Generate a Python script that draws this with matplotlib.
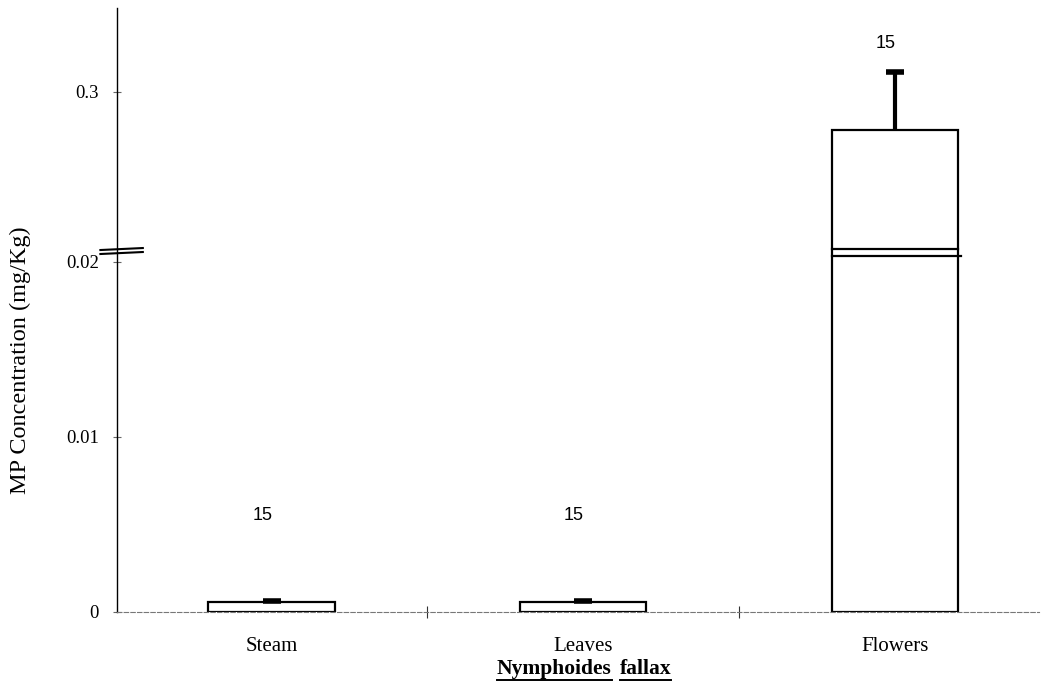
import numpy as np
import matplotlib
matplotlib.use("Agg")
from matplotlib import pyplot as plt
from matplotlib.lines import Line2D

# data
parts = ['Steam', 'Leaves', 'Flowers']
mp_conc = [0.00057, 0.00055, 0.2756]
mp_err = [0.00005, 0.00005, 0.037]
n_samples = ['15', '15', '15']
ytick_vals = [0, 0.01, 0.02, 0.3]
ytick_txt = ['0', '0.01', '0.02', '0.3']

# broken y axis: lower part linear up to lo_top, upper part starts at up_bot and is squashed
lo_top = 0.0208
up_bot = 0.2
k = 1560.0 / 17500.0

def fwd(y):
    y = np.asarray(y, dtype=float)
    return np.where(y <= lo_top, y, lo_top + np.clip(y - up_bot, 0, None) * k)

def inv(u):
    u = np.asarray(u, dtype=float)
    return np.where(u <= lo_top, u, up_bot + (u - lo_top) / k)

serif = 'Liberation Serif'
sans = 'Liberation Sans'
W, H = 1048, 694

fig = plt.figure(figsize=(W/100, H/100), dpi=100)
ax = fig.add_axes([117/W, 1 - 612/H, 0.88, (612 - 8)/H])
ax.set_yscale('function', functions=(fwd, inv))
ax.set_ylim(0, 0.3538)
ax.set_xlim(-0.496, 2.464)

x = np.arange(len(parts))
ax.bar(x, mp_conc, width=0.405, color='white', edgecolor='black', linewidth=1.6)
# error bars only upwards
tops = np.array(mp_conc) + np.array(mp_err)
ax.vlines(x, mp_conc, tops, color='black', lw=3, zorder=4)
ax.plot(x, tops, ls='none', marker='_', ms=13, mew=4, color='black', zorder=4)

# n labels
label_y = [0.00554, 0.00554, 0.3308]
for xi, yi, s in zip(x, label_y, n_samples):
    ax.text(xi - 0.03, yi, s, ha='center', va='center', fontsize=13, family=sans)

# break marks across the big bar
ax.plot([2 - 0.2025, 2 + 0.2025], [0.02074, 0.02074], color='black', lw=1.6, zorder=5)
ax.plot([2 - 0.2025, 2 + 0.2125], [0.02034, 0.02034], color='black', lw=1.6, zorder=5)
# break marks on the y axis
for y0, y1 in [(0.5993, 0.6026), (0.5927, 0.5960)]:
    ax.add_line(Line2D([-0.018, 0.028], [y0, y1], transform=ax.transAxes,
                       color='black', lw=1.5, clip_on=False))

ax.set_yticks(ytick_vals)
ax.set_yticklabels(ytick_txt, family=serif, fontsize=13.5)
ax.yaxis.set_minor_locator(plt.NullLocator())
ax.tick_params(axis='y', length=6, width=0.8, direction='inout', color='#666666', pad=10)

ax.set_xticks([0.5, 1.5])
ax.set_xticklabels([])
ax.tick_params(axis='x', length=8, width=0.8, direction='inout', color='#333333')

ax.spines['top'].set_visible(False)
ax.spines['right'].set_visible(False)
ax.spines['left'].set_linewidth(1.0)
ax.spines['bottom'].set_linestyle((0, (4, 2)))
ax.spines['bottom'].set_color('#777777')
ax.spines['bottom'].set_linewidth(0.8)

# category names under each bar
for xi, s in zip(x, parts):
    px = ax.transData.transform((xi, 0))[0]
    fig.text(px / W, 1 - 651/H, s, ha='center', va='baseline', fontsize=15, family=serif)

fig.text(20/W, 1 - 360/H, 'MP Concentration (mg/Kg)', rotation=90, ha='center',
         va='center', family=serif, fontsize=17.5)

# underlined bold species name, word by word, centred under the middle category
t1 = fig.text(0, 1 - 674/H, 'Nymphoides', ha='left', va='baseline',
              fontsize=15.5, fontweight='bold', family=serif)
t2 = fig.text(0, 1 - 674/H, 'fallax', ha='left', va='baseline',
              fontsize=15.5, fontweight='bold', family=serif)
fig.canvas.draw()
r = fig.canvas.get_renderer()
w1 = t1.get_window_extent(renderer=r).width
w2 = t2.get_window_extent(renderer=r).width
gap = 8
x0 = 584 - (w1 + gap + w2) / 2
t1.set_x(x0 / W)
t2.set_x((x0 + w1 + gap) / W)
fig.canvas.draw()
for t in [t1, t2]:
    bb = t.get_window_extent(renderer=r)
    yy = 1 - 680/H
    fig.add_artist(Line2D([bb.x0/W, bb.x1/W], [yy, yy], transform=fig.transFigure,
                          color='black', lw=1.4))

fig.savefig('out.png', dpi=100)
